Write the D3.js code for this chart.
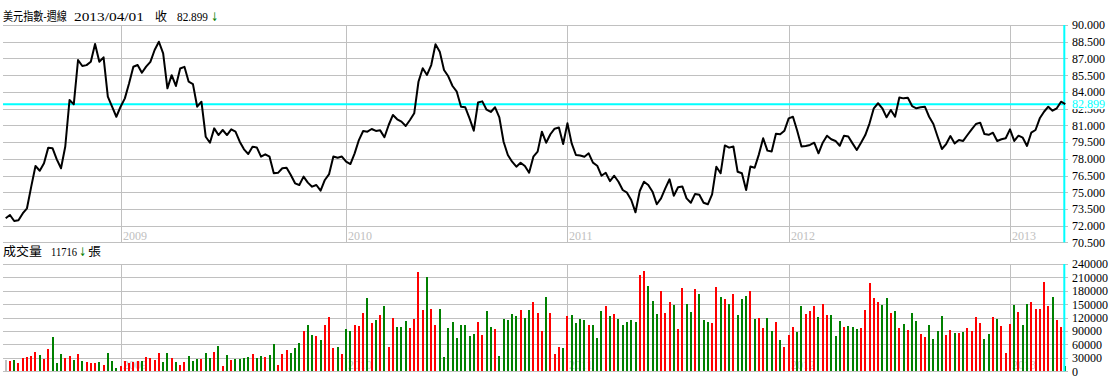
<!DOCTYPE html>
<html><head><meta charset="utf-8">
<script src="https://cdn.jsdelivr.net/npm/d3@7/dist/d3.min.js"></script>
<style>body{margin:0;background:#fff;overflow:hidden}svg{display:block}</style>
</head><body>
<svg id="chart" width="1118" height="386"></svg>
<script>
// ---- data ----
const price = [
72.66,72.96,72.42,72.48,73.1,73.56,75.5,77.35,76.93,77.6,
79.0,78.95,77.95,77.15,79.1,83.27,82.88,86.86,86.32,86.4,
86.7,88.3,86.7,87.1,83.57,82.67,81.77,82.67,83.42,84.77,
86.26,86.41,85.72,86.26,86.7,87.76,88.5,87.46,84.32,85.5,
84.53,86.1,86.25,84.91,84.7,82.67,83.12,79.98,79.44,80.73,
80.13,80.58,80.13,80.64,80.43,79.53,78.85,78.43,79.08,79.02,
78.19,78.4,78.19,76.70,76.74,77.15,77.2,76.55,75.8,75.65,
76.4,75.86,75.5,75.65,75.14,76.1,76.63,78.2,78.1,78.2,
77.74,77.53,78.49,79.68,80.49,80.43,80.67,80.5,80.55,79.93,
81.03,81.93,81.54,81.33,80.94,81.48,82.08,84.91,86.12,85.52,
86.41,88.27,87.61,85.96,85.4,84.53,84.02,82.67,82.62,81.63,
80.52,83.05,83.15,82.4,82.2,82.62,81.72,79.53,78.34,77.74,
77.29,77.65,77.35,76.75,78.19,78.64,80.43,79.44,80.2,80.7,
80.8,79.32,81.18,79.38,78.34,78.3,78.19,78.49,77.65,77.38,
76.48,76.75,76.0,76.48,75.94,75.2,74.96,74.3,73.2,75.11,
75.94,75.65,75.05,73.92,74.45,75.35,76.16,74.69,75.45,75.52,
74.45,74.06,74.85,74.78,74.06,73.92,74.81,77.29,76.7,79.2,
79.0,79.1,76.84,76.7,75.2,77.3,77.2,78.4,79.84,78.73,
78.65,80.25,80.2,80.52,81.63,81.77,80.52,79.1,79.15,79.24,
79.44,78.49,79.44,80.07,79.75,79.6,79.17,80.07,80.0,79.38,
78.79,79.44,80.13,81.18,82.53,82.98,82.53,81.72,82.38,81.77,
83.5,83.42,83.48,82.73,82.53,82.62,82.67,81.77,81.12,79.98,
78.88,79.32,80.04,79.38,79.68,79.6,80.13,80.64,81.12,81.24,
80.22,80.15,80.34,79.6,79.75,79.84,80.64,79.6,80.07,79.89,
79.15,80.34,80.58,81.63,82.22,82.67,82.31,82.53,83.12,82.899
];
const volume = [
26100,23100,25400,18650,29840,32080,34300,43300,36550,27600,
50000,76800,18650,38800,29840,34300,25400,38800,23100,20900,
18650,18650,20900,14200,41000,23100,7460,11900,23100,18650,
20900,23100,23100,32080,29840,25400,41000,20900,41000,29840,
20900,14200,20900,34300,23100,27600,27600,41000,29840,43300,
56700,11900,36550,25400,27600,27600,29840,32080,38800,29840,
34300,32080,36550,61200,14200,38800,47700,41000,52200,63400,
90300,103700,81300,79100,70100,103700,121600,52200,54500,38800,
94700,90300,103700,101500,130600,164100,108200,
114900,126100,146200,54500,119400,99200,99200,112600,97000,117100,
222300,137300,211100,139500,103700,139500,32080,97000,110400,74600,
103700,103700,79100,83600,110400,81300,135000,99200,94700,34300,
117100,114900,128300,123800,137300,119400,137300,155200,130600,90300,
166400,130600,38800,54500,52200,123800,126100,108200,117100,114900,
103700,103700,74600,135000,146200,123800,128300,117100,103700,110400,
114900,110400,215600,224500,191000,157400,128300,179800,130600,155200,
148500,94700,186500,150700,132800,184300,173100,114900,110400,108200,
188700,166400,161900,150700,173100,126100,161900,
168600,179800,117100,119400,97000,119400,90300,110400,70100,54500,
81300,99200,88000,146200,128300,135000,146200,121600,150700,126100,
126100,79100,112600,99200,101500,99200,94700,97000,137300,197700,
164100,155200,148500,164100,130600,135000,97000,105900,92500,130600,
112600,83600,76800,103700,72400,90300,123800,81300,92500,85800,
85800,88000,97000,90300,121600,108200,72400,83600,121600,117100,
101500,41000,105900,148500,132800,103700,150700,155200,139500,139500,
199900,146200,166400,114900,99200,11716
];
const yearLabels = ["2009","2010","2011","2012","2013"];
const yearStartIndex = [27,80,132,184,236];
const priceTicks = [90,88.5,87,85.5,84,82.5,81,79.5,78,76.5,75,73.5,72,70.5];
const volumeTicks = [0,30000,60000,90000,120000,150000,180000,210000,240000];
const titleName = "美元指數-週線";
const titleDate = "2013/04/01";
const closeWord = "收";
const lastClose = 82.899;
const volTitle = "成交量";
const lastVolume = 11716;
const volUnit = "張";

// ---- layout ----
const svg = d3.select("#chart");
const left = 3, right = 1068;
const x = d3.scaleLinear().domain([0, price.length - 1]).range([5.7, 1065.3]);
const yP = d3.scaleLinear().domain([70.5, 90]).range([242.4, 25]);
const yV = d3.scaleLinear().domain([0, 240000]).range([371.3, 264]);
const grid = "#c0c0c0";
const cjk = "'Noto Sans CJK TC','Noto Sans CJK SC',sans-serif";
const num = "'Liberation Serif','DejaVu Serif',serif";
const arrowFont = "'DejaVu Sans',sans-serif";

function panel(yScale, ticks, fmt, top, bottom) {
  const ax = svg.append("g").attr("transform", `translate(${right},0)`)
    .call(d3.axisRight(yScale).tickValues(ticks).tickFormat(fmt)
      .tickSize(-(right - left)).tickPadding(4));
  ax.select(".domain").remove();
  ax.selectAll("line").attr("stroke", grid).attr("shape-rendering", "crispEdges");
  ax.selectAll("text").attr("font-family", num).attr("font-size", 12).attr("fill", "#000");
  svg.append("g").selectAll("line").data(yearStartIndex).join("line")
    .attr("x1", d => Math.round(x(d)) + 0.5).attr("x2", d => Math.round(x(d)) + 0.5)
    .attr("y1", top).attr("y2", bottom).attr("stroke", grid);
  svg.append("g").selectAll("text").data(yearLabels).join("text")
    .attr("x", (d, i) => Math.round(x(yearStartIndex[i])) + 2)
    .attr("y", bottom - 2).attr("fill", grid)
    .attr("font-family", num).attr("font-size", 12).text(d => d);
  return ax;
}

panel(yP, priceTicks, d3.format(".3f"), yP(90), yP(70.5));
panel(yV, volumeTicks, d3.format("d"), yV(240000), yV(0));

// volume bars
svg.append("g").selectAll("rect").data(volume).join("rect")
  .attr("x", (d, i) => Math.round(x(i)) - 1)
  .attr("width", 2)
  .attr("y", d => yV(d))
  .attr("height", d => yV(0) - yV(d))
  .attr("fill", (d, i) => i === 0 ? "#c0c0c0" : (price[i] > price[i - 1] ? "#ff0000" : "#008000"))
  .attr("shape-rendering", "crispEdges");

// last close cursor lines
const cyan = "#00ffff";
const lastX = x(price.length - 1) - 1;
svg.append("line").attr("x1", left).attr("x2", lastX)
  .attr("y1", yP(lastClose)).attr("y2", yP(lastClose))
  .attr("stroke", cyan).attr("stroke-width", 2);
svg.append("line").attr("x1", lastX).attr("x2", lastX)
  .attr("y1", yP(90)).attr("y2", yP(70.5)).attr("stroke", cyan).attr("stroke-width", 2);
svg.append("line").attr("x1", lastX).attr("x2", lastX)
  .attr("y1", yV(240000)).attr("y2", yV(0)).attr("stroke", cyan).attr("stroke-width", 2);

// price line
svg.append("path").datum(price)
  .attr("d", d3.line().x((d, i) => x(i)).y(d => yP(d)))
  .attr("fill", "none").attr("stroke", "#000").attr("stroke-width", 2)
  .attr("stroke-linejoin", "round");

// last close label on axis (drawn over the 82.500 tick label, as in the original)
svg.append("rect").attr("x", right + 3).attr("y", yP(lastClose) - 6)
  .attr("width", 36).attr("height", 11).attr("fill", "#fff");
svg.append("text").attr("x", right + 4).attr("y", yP(lastClose)).attr("dy", "0.32em")
  .attr("font-family", num).attr("font-size", 12).attr("fill", cyan)
  .text(d3.format(".3f")(lastClose));

// titles: each segment scaled horizontally to its width in the original
function seg(txt, xPos, yPos, width, fam, size, fill) {
  const t = svg.append("text").attr("font-family", fam).attr("font-size", size)
    .attr("fill", fill || "#000").text(txt);
  const w = t.node().getComputedTextLength() || width;
  t.attr("transform", `translate(${xPos},${yPos}) scale(${width / w},1)`);
}
seg(titleName, 3, 21, 64, cjk, 12.5);
seg(titleDate, 74, 21, 70, num, 13);
seg(closeWord, 155, 21, 12, cjk, 12.5);
seg(d3.format(".3f")(lastClose), 177, 21, 31, num, 13);
seg("↓", 211, 21, 7, arrowFont, 12, "#008000");
seg(volTitle, 3, 256, 39, cjk, 12.5);
seg(String(lastVolume), 51, 256, 26, num, 13);
seg("↓", 79, 256, 7, arrowFont, 12, "#008000");
seg(volUnit, 88, 256, 13, cjk, 12.5);
</script>
</body></html>
